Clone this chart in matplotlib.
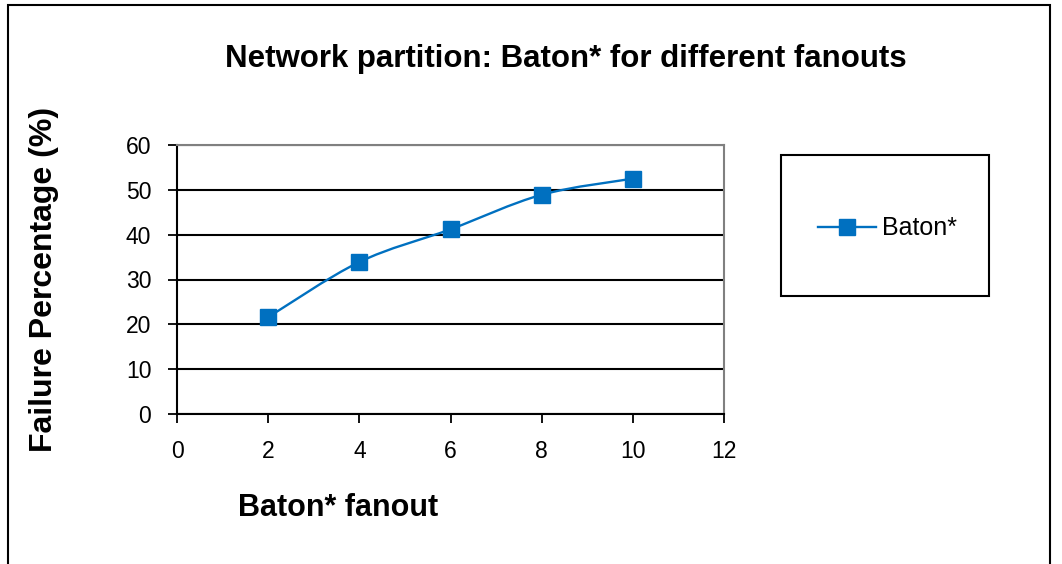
import matplotlib
matplotlib.use("Agg")
import matplotlib.pyplot as plt
from matplotlib.path import Path
from matplotlib.patches import PathPatch, Rectangle
from matplotlib.lines import Line2D
import numpy as np

plt.rcParams['font.family'] = ['Liberation Sans', 'DejaVu Sans']

fanout = [2, 4, 6, 8, 10]
failure = [21.6, 33.9, 41.2, 48.9, 52.5]
series_name = "Baton*"
title = "Network partition: Baton* for different fanouts"
xlabel = "Baton* fanout"
ylabel = "Failure Percentage (%)"
xticks = [0, 2, 4, 6, 8, 10, 12]
yticks = [0, 10, 20, 30, 40, 50, 60]

W, H = 1062, 564
fig = plt.figure(figsize=(W / 100, H / 100), dpi=100)
color = '#0070C0'

# outer chart border
fig.add_artist(Rectangle((8 / W, -0.05), (1050 - 8) / W, 1 - 5 / H + 0.05,
                         transform=fig.transFigure, fill=False, edgecolor='black', lw=1.5))

ax = fig.add_axes([177 / W, 1 - 414 / H, (724 - 177) / W, (414 - 145) / H])
ax.set_xlim(0, 12)
ax.set_ylim(0, 60)
ax.set_xticks(xticks)
ax.set_yticks(yticks)
ax.tick_params(axis='both', direction='out', length=6.5, width=1.3, labelsize=16.5, color='black')
ax.tick_params(axis='y', pad=12)
ax.tick_params(axis='x', pad=12)
for s in ['left', 'bottom']:
    ax.spines[s].set_color('black')
    ax.spines[s].set_linewidth(1.5)
for s in ['top', 'right']:
    ax.spines[s].set_color('#808080')
    ax.spines[s].set_linewidth(1.5)
ax.yaxis.grid(True, color='black', lw=1.5)
ax.set_axisbelow(True)

# smoothed line (Catmull-Rom style Bezier through data points)
x = np.array(fanout, float)
y = np.array(failure, float)
verts = [(x[0], y[0])]
codes = [Path.MOVETO]
n = len(x)
for i in range(n - 1):
    p0 = np.array([x[max(i - 1, 0)], y[max(i - 1, 0)]])
    p1 = np.array([x[i], y[i]])
    p2 = np.array([x[i + 1], y[i + 1]])
    p3 = np.array([x[min(i + 2, n - 1)], y[min(i + 2, n - 1)]])
    c1 = p1 + (p2 - p0) / 6
    c2 = p2 - (p3 - p1) / 6
    verts += [tuple(c1), tuple(c2), tuple(p2)]
    codes += [Path.CURVE4] * 3
ax.add_patch(PathPatch(Path(verts, codes), fill=False, edgecolor=color, lw=1.7, zorder=3))
ax.plot(fanout, failure, linestyle='none', marker='s', markersize=12, color=color, zorder=4)

fig.text(566 / W, 1 - 59 / H, title, ha='center', va='center', fontsize=22.5, fontweight='bold')
fig.text(338 / W, 1 - 508 / H, xlabel, ha='center', va='center', fontsize=22, fontweight='bold')
fig.text(44 / W, 1 - 279 / H, ylabel, ha='center', va='center', rotation=90, fontsize=23, fontweight='bold')

# legend box
fig.add_artist(Rectangle((781 / W, 1 - 296 / H), (989 - 781) / W, (296 - 155) / H,
                         transform=fig.transFigure, fill=False, edgecolor='black', lw=1.5))
fig.add_artist(Line2D([818 / W, 876 / W], [1 - 227 / H] * 2, transform=fig.transFigure, color=color, lw=1.7))
fig.add_artist(Line2D([847 / W], [1 - 227 / H], transform=fig.transFigure, color=color,
                      marker='s', markersize=12, linestyle='none'))
fig.text(882 / W, 1 - 228 / H, series_name, ha='left', va='center', fontsize=18)

fig.savefig('out.png', dpi=100)
